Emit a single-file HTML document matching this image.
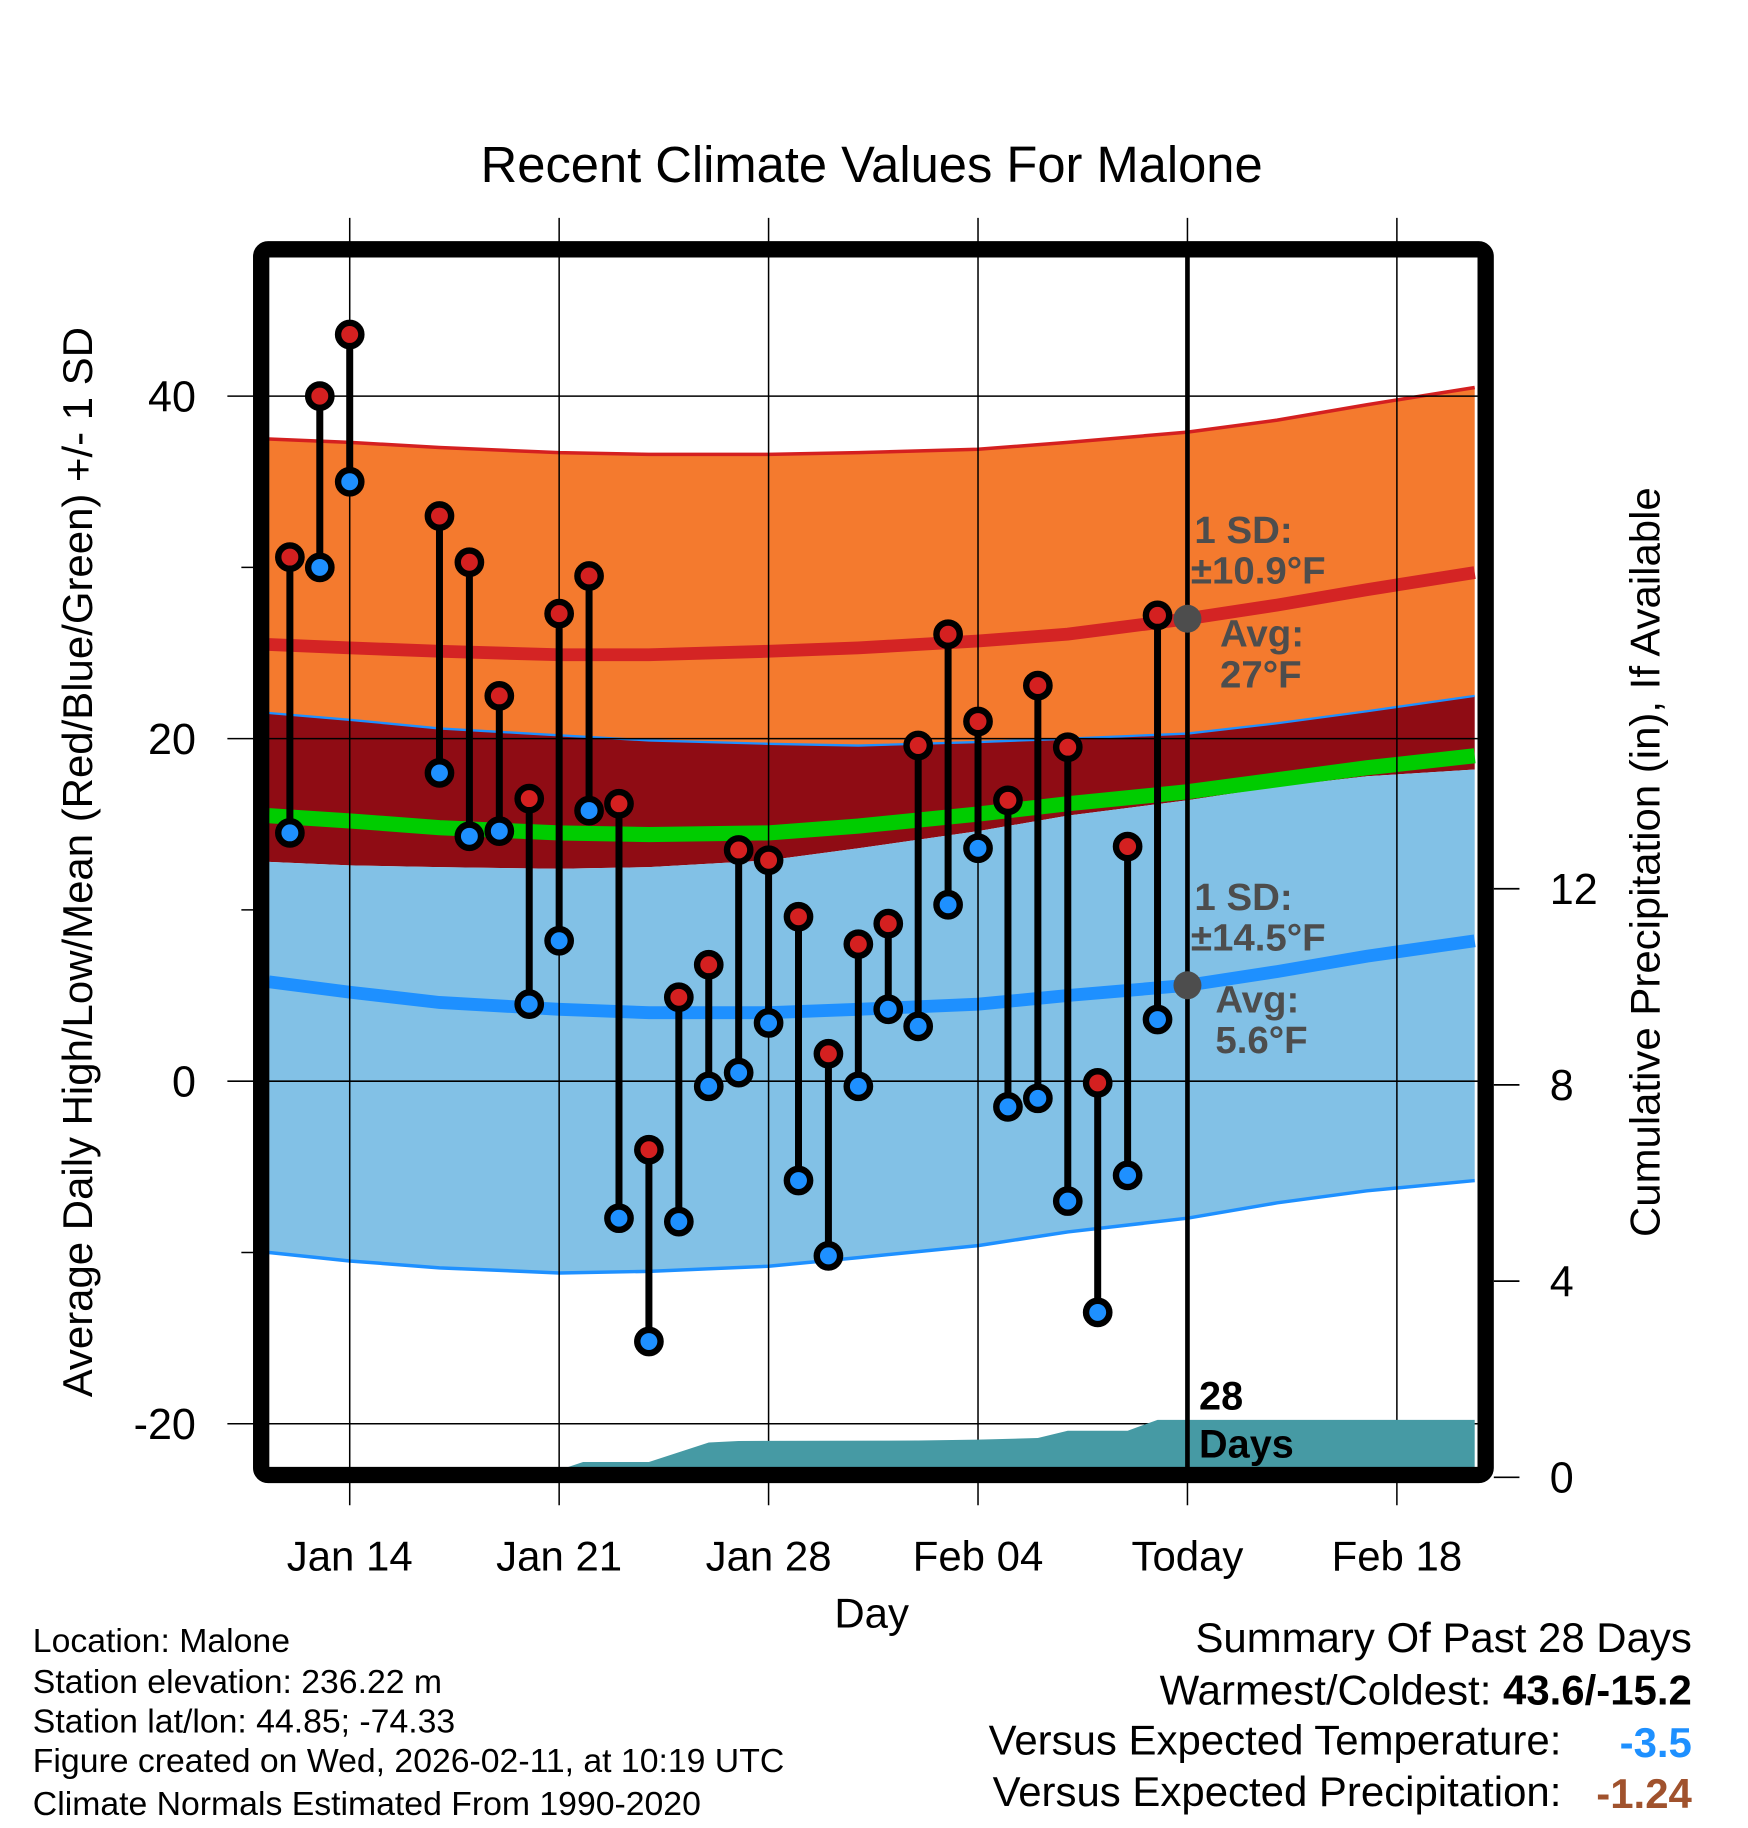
<!DOCTYPE html>
<html><head><meta charset="utf-8"><style>
html,body{margin:0;padding:0;background:#fff}
svg{display:block;font-family:"Liberation Sans",Arial,sans-serif}
</style></head><body>
<svg id="chart" width="1748" height="1828" viewBox="0 0 1500 1569" xmlns="http://www.w3.org/2000/svg">
<g id="bands"></g><g id="grid"></g><g id="precip"></g><g id="marks"></g><g id="frame"></g><g id="labels"></g>
</svg>
<script>
// ---- data ----
const dayOffsets = [-2,-1,0,3,4,5,6,7,8,9,10,11,12,13,14,15,16,17,18,19,20,21,22,23,24,25,26,27];
const highs = [30.6,40,43.6,33,30.3,22.5,16.5,27.3,29.5,16.2,-4,4.9,6.8,13.5,12.9,9.6,1.6,8,9.2,19.6,26.1,21,16.4,23.1,19.5,-0.1,13.7,27.2];
const lows  = [14.5,30,35,18,14.3,14.6,4.5,8.2,15.8,-8,-15.2,-8.2,-0.3,0.5,3.4,-5.8,-10.2,-0.3,4.2,3.2,10.3,13.6,-1.5,-1,-7,-13.5,-5.5,3.6];
const normDays = [-2.7,0,3,7,10,14,17,21,24,28,31,34,37.6];
const highAvg  = [25.5,25.3,25.1,24.9,24.9,25.1,25.3,25.7,26.1,27,27.8,28.7,29.7];
const highTop  = [37.5,37.3,37.0,36.7,36.6,36.6,36.7,36.9,37.3,37.9,38.6,39.5,40.5];
const highBot  = [21.5,21.1,20.6,20.2,19.9,19.7,19.6,19.8,20.0,20.3,20.9,21.6,22.5];
const meanT    = [15.5,15.2,14.8,14.5,14.4,14.5,14.9,15.6,16.2,16.9,17.6,18.3,19.0];
const lowTop   = [12.8,12.6,12.5,12.4,12.5,12.9,13.6,14.6,15.5,16.4,17.2,17.8,18.2];
const lowAvg   = [5.8,5.2,4.6,4.2,4.0,4.0,4.2,4.5,5.0,5.6,6.4,7.3,8.2];
const lowBot   = [-10,-10.5,-10.9,-11.2,-11.1,-10.8,-10.3,-9.6,-8.8,-8.0,-7.1,-6.4,-5.8];
const precipDays = [-2.7,7,7.8,10,12,13,19,21,23,24,26,27,37.6];
const precipVals = [0,0.15,0.31,0.31,0.71,0.74,0.75,0.77,0.8,0.95,0.95,1.17,1.17];
const xTickDays = [0,7,14,21,28,35];
const xTickLabels = ["Jan 14","Jan 21","Jan 28","Feb 04","Today","Feb 18"];
const todayDay = 28;
const yTicks = [40,20,0,-20];
const yMinor = [30,10,-10];
const pTicks = [0,4,8,12];
// ---- scales ----
const X = d => 300 + d*25.68;
const Y = v => 928 - v*14.7;
const P = v => 1268 - v*42.1;
const NS="http://www.w3.org/2000/svg";
function mk(parent,tag,attrs,text){const e=document.createElementNS(NS,tag);for(const k in attrs)e.setAttribute(k,attrs[k]);if(text!==undefined)e.textContent=text;document.getElementById(parent).appendChild(e);return e;}
const pts=(ds,vs,f)=>ds.map((d,i)=>X(d).toFixed(1)+','+f(vs[i]).toFixed(1));
function area(top,bot,fill,name){
  const p=pts(normDays,top,Y).concat(pts(normDays,bot,Y).reverse());
  const e=mk('bands','polygon',{points:p.join(' '),fill:fill});
  
  
}
function line(vals,color,w,name){
  const e=mk('bands','polyline',{points:pts(normDays,vals,Y).join(' '),fill:'none',stroke:color,'stroke-width':w});
  
  
}
area(highTop,highBot,'#f47a2e','high-sd-band');
area(highBot,lowTop,'#8f0c14','overlap-band');
area(lowTop,lowBot,'#82c1e6','low-sd-band');
line(highTop,'#d42020',3,'high-sd-top');
line(highBot,'#1e90ff',2,'high-sd-bottom');
line(lowBot,'#1e90ff',3,'low-sd-bottom');
line(meanT,'#00cc00',13,'mean-temp-line');
line(highAvg,'#d42424',11,'avg-high-line');
line(lowAvg,'#1e90ff',11,'avg-low-line');
// grid
xTickDays.forEach((d,i)=>{
  const e=mk('grid','line',{x1:X(d),x2:X(d),y1:187,y2:1292,stroke:'#000','stroke-width':1.3});
  
  
  const t=mk('labels','text',{x:X(d),y:1348,'font-size':36,'text-anchor':'middle'},xTickLabels[i]);
  
  
});
yTicks.forEach(v=>{
  const e=mk('grid','line',{x1:195,x2:1268,y1:Y(v),y2:Y(v),stroke:'#000','stroke-width':1.3});
  
  
  const t=mk('labels','text',{x:168,y:Y(v)+13,'font-size':37,'text-anchor':'end'},String(v));
  
  
});
yMinor.forEach(v=>{
  const e=mk('grid','line',{x1:207,x2:222,y1:Y(v),y2:Y(v),stroke:'#000','stroke-width':1.3});
  
  
});
pTicks.forEach(v=>{
  const e=mk('grid','line',{x1:1282,x2:1304,y1:P(v),y2:P(v),stroke:'#000','stroke-width':1.5});
  
  
  const t=mk('labels','text',{x:1330,y:P(v)+13,'font-size':37},String(v));
  
  
});
// precip area
{
  const top=pts(precipDays,precipVals,P);
  const e=mk('precip','polygon',{points:top.concat([X(37.6)+',1262',X(-2.7)+',1262']).join(' '),fill:'#469aa4'});
  
  
}
// today line
{
  const e=mk('marks','line',{x1:X(todayDay),x2:X(todayDay),y1:220,y2:1262,stroke:'#000','stroke-width':4});
  
  
  const a=mk('marks','circle',{cx:X(todayDay),cy:Y(27),r:12,fill:'#4d4d4d'});
  
  
  const b=mk('marks','circle',{cx:X(todayDay),cy:Y(5.6),r:12,fill:'#4d4d4d'});
  
  
}
// stems & points
dayOffsets.forEach((d,i)=>{
  const x=X(d);
  const s=mk('marks','line',{x1:x,x2:x,y1:Y(highs[i]),y2:Y(lows[i]),stroke:'#000','stroke-width':6});
  
  
  const h=mk('marks','circle',{cx:x,cy:Y(highs[i]),r:10,fill:'#d42020',stroke:'#000','stroke-width':5.5});
  
  
  const l=mk('marks','circle',{cx:x,cy:Y(lows[i]),r:10,fill:'#1e90ff',stroke:'#000','stroke-width':5.5});
  
  
});
</script>
<svg style="position:absolute;left:0;top:0" width="1748" height="1828" viewBox="0 0 1500 1569" xmlns="http://www.w3.org/2000/svg" font-family="Liberation Sans, Arial, sans-serif">
<rect x="224" y="214" width="1051" height="1052" rx="6" fill="none" stroke="#000" stroke-width="14"/>
<g font-weight="bold" font-size="33" fill="#4d4d4d">
<text x="1025" y="466">1 SD:</text><text x="1022" y="501">±10.9°F</text>
<text x="1047" y="555">Avg:</text><text x="1047" y="590">27°F</text>
<text x="1025" y="781">1 SD:</text><text x="1022" y="816">±14.5°F</text>
<text x="1043" y="869">Avg:</text><text x="1043" y="904">5.6°F</text>
</g>
<g font-weight="bold" font-size="34" fill="#000">
<text x="1029" y="1210">28</text><text x="1029" y="1251">Days</text>
</g>
<text x="748" y="156" font-size="43.5" text-anchor="middle">Recent Climate Values For Malone</text>
<text x="748" y="1397" font-size="36" text-anchor="middle">Day</text>
<text transform="translate(79,740) rotate(-90)" font-size="36" text-anchor="middle">Average Daily High/Low/Mean (Red/Blue/Green) +/- 1 SD</text>
<text transform="translate(1424,740) rotate(-90)" font-size="36" text-anchor="middle">Cumulative Precipitation (in), If Available</text>
<g font-size="29">
<text x="28" y="1418">Location: Malone</text>
<text x="28" y="1453">Station elevation: 236.22 m</text>
<text x="28" y="1487">Station lat/lon: 44.85; -74.33</text>
<text x="28" y="1521">Figure created on Wed, 2026-02-11, at 10:19 UTC</text>
<text x="28" y="1558">Climate Normals Estimated From 1990-2020</text>
</g>
<g font-size="36" text-anchor="end">
<text x="1452" y="1418">Summary Of Past 28 Days</text>
<text x="1452" y="1463">Warmest/Coldest: <tspan font-weight="bold">43.6/-15.2</tspan></text>
<text x="1340" y="1506">Versus Expected Temperature:</text>
<text x="1452" y="1508" fill="#1e90ff" font-weight="bold">-3.5</text>
<text x="1340" y="1550">Versus Expected Precipitation:</text>
<text x="1452" y="1552" fill="#a0522d" font-weight="bold">-1.24</text>
</g>
</svg>
</body></html>
